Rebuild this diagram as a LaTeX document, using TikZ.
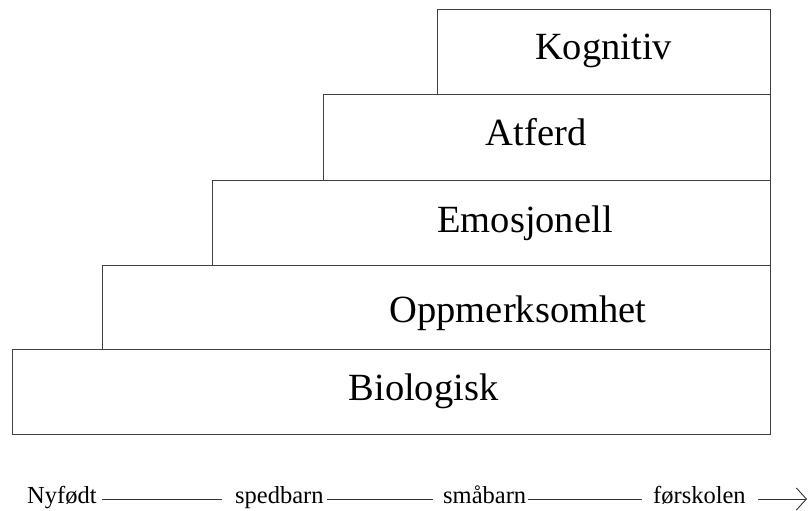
\documentclass[tikz,border=0pt]{standalone}
\usepackage{fontspec}
\setmainfont{Liberation Serif}
\usetikzlibrary{arrows.meta}
\begin{document}
\begin{tikzpicture}[x=1pt,y=-1pt,
  stairbox/.style={draw=black!75,line width=1.3pt,fill=white,anchor=north west,inner sep=0pt},
  stairlabel/.style={anchor=base,inner sep=0pt,font=\fontsize{38.5}{44}\selectfont},
  agelabel/.style={anchor=base west,inner xsep=0pt,inner ysep=0pt,text height=12pt,text depth=4pt,font=\fontsize{24.5}{28}\selectfont},
  ageline/.style={draw=black!80,line width=0.9pt}]
\useasboundingbox (0,0) rectangle (809,511);
% boxes, bottom to top
\node[stairbox,minimum width=758pt,minimum height=85pt] (bio) at (12,349) {};
\node[stairbox,minimum width=668pt,minimum height=84pt] (opp) at (102,265) {};
\node[stairbox,minimum width=558pt,minimum height=85pt] (emo) at (212,180) {};
\node[stairbox,minimum width=447pt,minimum height=86pt] (atf) at (323,94) {};
\node[stairbox,minimum width=333pt,minimum height=85pt] (kog) at (437,9) {};
% labels
\node[stairlabel] (tkog) at (603.5,60) {Kognitiv};
\node[stairlabel] (tatf) at (536,145) {Atferd};
\node[stairlabel] (temo) at (525,232) {Emosjonell};
\node[stairlabel] (topp) at (518,322) {Oppmerksomhet};
\node[stairlabel] (tbio) at (423.5,400) {Biologisk};
% age axis
\node[agelabel] (nyf) at (27,503) {Nyfødt};
\node[agelabel] (sped) at (235,503) {spedbarn};
\node[agelabel] (smaa) at (443,503) {småbarn};
\node[agelabel] (fors) at (653,503) {førskolen};
\coordinate (axend) at (807,499);
\draw[ageline] ([xshift=5pt]nyf.east) -- ([xshift=-13pt]sped.west);
\draw[ageline] ([xshift=3pt]sped.east) -- ([xshift=-10pt]smaa.west);
\draw[ageline] ([xshift=2pt]smaa.east) -- ([xshift=-11pt]fors.west);
\draw[ageline,-{Straight Barb[length=10pt,width=22pt,line width=0.9pt]}] ([xshift=12pt]fors.east) -- (axend);
\end{tikzpicture}
\end{document}
